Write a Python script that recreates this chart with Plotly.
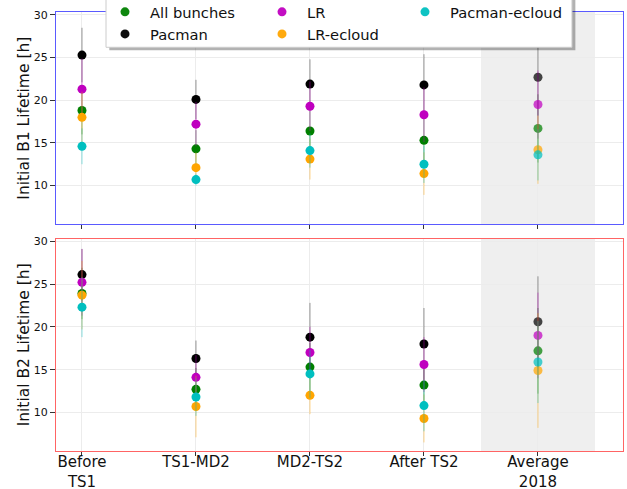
import plotly.graph_objects as go
from plotly.subplots import make_subplots

periods = ["Before<br>TS1", "TS1-MD2", "MD2-TS2", "After TS2", "Average<br>2018"]
series = ["All bunches", "Pacman", "LR", "LR-ecloud", "Pacman-ecloud"]
colors = {"All bunches": "#008000", "Pacman": "#000000", "LR": "#bf00bf",
          "LR-ecloud": "#ffa500", "Pacman-ecloud": "#00bfbf"}
err_colors = {"All bunches": "rgba(0,128,0,0.45)", "Pacman": "rgba(0,0,0,0.4)",
              "LR": "rgba(191,0,191,0.45)", "LR-ecloud": "rgba(255,165,0,0.45)",
              "Pacman-ecloud": "rgba(0,191,191,0.45)"}
legend_col = {"All bunches": "legend", "Pacman": "legend", "LR": "legend2",
              "LR-ecloud": "legend2", "Pacman-ecloud": "legend3"}

# Beam 1 lifetimes [h]
b1_all = [18.8, 14.3, 16.4, 15.3, 16.7]
b1_pacman = [25.3, 20.1, 21.9, 21.8, 22.7]
b1_lr = [21.3, 17.2, 19.3, 18.3, 19.5]
b1_lrec = [18.0, 12.1, 13.1, 11.4, 14.2]
b1_pacec = [14.6, 10.7, 14.1, 12.5, 13.6]
b1_all_err = [2.8, 2.2, 2.6, 2.8, 4.0]
b1_pacman_err = [3.2, 2.3, 2.9, 3.6, 4.5]
b1_lr_err = [3.6, 2.6, 2.9, 3.2, 4.0]
b1_lrec_err = [3.0, 1.8, 2.4, 2.5, 4.0]
b1_pacec_err = [2.1, 0.7, 2.0, 2.2, 3.0]

# Beam 2 lifetimes [h]
b2_all = [23.9, 12.7, 15.3, 13.2, 17.2]
b2_pacman = [26.1, 16.3, 18.8, 18.0, 20.6]
b2_lr = [25.2, 14.1, 17.0, 15.6, 19.0]
b2_lrec = [23.7, 10.7, 12.0, 9.3, 14.9]
b2_pacec = [22.3, 11.8, 14.5, 10.8, 15.9]
b2_all_err = [3.0, 2.5, 2.8, 2.8, 5.0]
b2_pacman_err = [3.0, 2.1, 4.0, 4.2, 5.3]
b2_lr_err = [3.9, 2.6, 3.0, 3.2, 5.0]
b2_lrec_err = [4.0, 3.6, 2.2, 2.8, 6.7]
b2_pacec_err = [3.5, 2.2, 2.8, 3.0, 4.8]

b1 = {"All bunches": (b1_all, b1_all_err), "Pacman": (b1_pacman, b1_pacman_err),
      "LR": (b1_lr, b1_lr_err), "LR-ecloud": (b1_lrec, b1_lrec_err),
      "Pacman-ecloud": (b1_pacec, b1_pacec_err)}
b2 = {"All bunches": (b2_all, b2_all_err), "Pacman": (b2_pacman, b2_pacman_err),
      "LR": (b2_lr, b2_lr_err), "LR-ecloud": (b2_lrec, b2_lrec_err),
      "Pacman-ecloud": (b2_pacec, b2_pacec_err)}

xpos = list(range(len(periods)))
op = [1, 1, 1, 1, 0.72]

fig = make_subplots(rows=2, cols=1, shared_xaxes=False, vertical_spacing=0.0326)

for row, data in ((1, b1), (2, b2)):
    for s in series:
        vals, errs = data[s]
        fig.add_trace(go.Scatter(
            x=xpos, y=vals, mode="markers", name=s, legendgroup=s,
            showlegend=(row == 1), legend=legend_col[s],
            marker=dict(color=colors[s], size=9, opacity=op),
            error_y=dict(type="data", array=errs, visible=True, thickness=1,
                         width=0, color=err_colors[s]),
        ), row=row, col=1)

font = "DejaVu Sans, sans-serif"
for row, lc, title in ((1, "rgba(90,90,255,1)", "Initial B1 Lifetime [h]"),
                       (2, "rgba(255,100,100,1)", "Initial B2 Lifetime [h]")):
    fig.update_xaxes(row=row, col=1, range=[-0.228, 4.746], tickvals=xpos,
                     ticktext=periods, showticklabels=(row == 2), automargin=False,
                     showgrid=True, gridcolor="#ececec", gridwidth=1,
                     showline=True, mirror=True, linecolor=lc, linewidth=1,
                     ticks="outside", ticklen=4, tickcolor="#333",
                     ticklabelstandoff=-7,
                     tickfont=dict(family=font, size=15, color="#111"),
                     zeroline=False)
    fig.update_yaxes(row=row, col=1, range=[5.45, 30.35] if row == 1 else [5.5, 30.3],
                     tickvals=[10, 15, 20, 25, 30], automargin=False,
                     showgrid=True, gridcolor="#ececec", gridwidth=1,
                     showline=True, mirror=True, linecolor=lc, linewidth=1,
                     ticks="outside", ticklen=5, tickcolor="#333",
                     tickfont=dict(family=font, size=11, color="#111"),
                     title=dict(text=title, font=dict(family=font, size=15.5, color="#111"), standoff=0),
                     zeroline=False)
    fig.add_shape(type="rect", xref="x" if row == 1 else "x2",
                  yref="y domain" if row == 1 else "y2 domain",
                  x0=3.5, x1=4.5, y0=0, y1=1, fillcolor="#efefef",
                  line=dict(width=0), layer="below")

# legend frame (box + shadow) in paper coordinates
fig.add_shape(type="rect", xref="paper", yref="paper", x0=0.094, x1=0.916,
              y0=0.913, y1=1.06, fillcolor="rgba(0,0,0,0.3)", line=dict(width=0), layer="above")
fig.add_shape(type="rect", xref="paper", yref="paper", x0=0.0882, x1=0.910,
              y0=0.9196, y1=1.06, fillcolor="white", line=dict(width=1, color="#cccccc"),
              layer="above")

leg = dict(orientation="v", xanchor="left", y=1.037, yanchor="top", itemwidth=40,
           bgcolor="rgba(0,0,0,0)", borderwidth=0,
           font=dict(family=font, size=14.7, color="#111"), traceorder="normal")

fig.update_layout(
    width=627, height=489,
    margin=dict(l=56, r=4, t=12, b=38, autoexpand=False),
    plot_bgcolor="white", paper_bgcolor="white",
    font=dict(family=font, color="#111"),
    legend=dict(leg, x=0.0776),
    legend2=dict(leg, x=0.3545),
    legend3=dict(leg, x=0.6067),
)

fig.write_html("out.html")
